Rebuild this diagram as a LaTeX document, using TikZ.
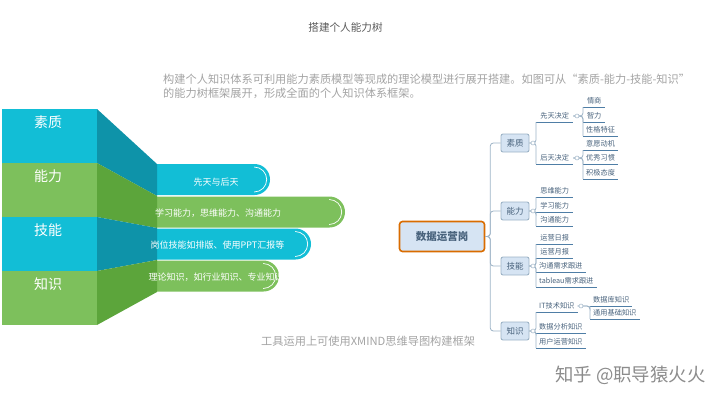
\documentclass[tikz,border=0pt]{standalone}
\usepackage{fontspec}
\usepackage{xcolor}
\setmainfont{Noto Sans CJK SC}
\usetikzlibrary{shapes.misc, positioning, calc}
\definecolor{tealc}{HTML}{12BED6}
\definecolor{greenc}{HTML}{7DC05C}
\definecolor{tealdark}{HTML}{0E93A9}
\definecolor{greendark}{HTML}{5CA53B}
\definecolor{textgray}{HTML}{A3A3A3}
\definecolor{linkc}{HTML}{9DB3C6}
\definecolor{underc}{HTML}{4F7EA6}
\definecolor{mapfill}{HTML}{D6E4F3}
\definecolor{maptext}{HTML}{48627C}
\tikzstyle{block} = [rectangle, minimum width=95pt, minimum height=54pt, inner sep=0pt]
\tikzstyle{blocktext} = [text=white, font=\fontsize{14}{16}\selectfont, inner sep=0pt]
\tikzstyle{pill} = [rounded rectangle, rounded rectangle west arc=none, minimum height=31pt, inner sep=0pt]
\tikzstyle{pilltext} = [text=white, font=\fontsize{9}{11}\selectfont, inner sep=0pt]
\tikzstyle{pillarc} = [white, line width=0.7pt]
\tikzstyle{topic} = [rectangle, rounded corners=2pt, draw=linkc, line width=0.9pt, fill=mapfill, text=maptext, minimum width=28pt, minimum height=18pt, inner sep=0pt, font=\fontsize{8.5}{10}\selectfont]
\tikzstyle{under} = [underc, line width=0.8pt]
\tikzstyle{leaf} = [anchor=west, minimum width=37pt, minimum height=12pt, inner xsep=3pt, inner ysep=0pt, text=maptext, font=\fontsize{7.2}{9}\selectfont,
  append after command={(\tikzlastnode.south west) edge[under] (\tikzlastnode.south east)}]
\tikzstyle{link} = [linkc, line width=0.8pt, rounded corners=3pt]
\tikzstyle{fold} = [circle, draw=linkc, line width=0.5pt, fill=white, minimum size=4pt, inner sep=0pt]

\begin{document}
\begin{tikzpicture}[x=1pt, y=-1pt]
    \useasboundingbox (0,0) rectangle (720,405);
    % 标题与说明
    \node[text=black!65, font=\fontsize{10.6}{13}\selectfont] (title) at (345.5,27) {搭建个人能力树};
    \node[anchor=west, text=textgray, font=\fontsize{11.2}{14}\selectfont, inner sep=0pt] (intro1) at (163,79) {构建个人知识体系可利用能力素质模型等现成的理论模型进行展开搭建。如图可从“素质-能力-技能-知识”};
    \node[anchor=west, text=textgray, font=\fontsize{11.2}{14}\selectfont, inner sep=0pt] (intro2) at (163,93) {的能力树框架展开，形成全面的个人知识体系框架。};
    \node[anchor=west, text=textgray, font=\fontsize{11.2}{13}\selectfont, inner sep=0pt] (tool) at (261,341) {工具运用上可使用XMIND思维导图构建框架};
    \node[anchor=west, text=black!45, font=\fontsize{18.4}{20}\selectfont, inner sep=0pt] (mark) at (555,375) {知乎 @职导猿火火};

    % 左侧色块
    \node[block, fill=tealc] (b1) at (49.5,136) {};
    \node[block, fill=greenc] (b2) at (49.5,190) {};
    \node[block, fill=tealc] (b3) at (49.5,244) {};
    \node[block, fill=greenc] (b4) at (49.5,298) {};
    \node[blocktext] (l1) at (48,122) {素质};
    \node[blocktext] (l2) at (48,176) {能力};
    \node[blocktext] (l3) at (48,230) {技能};
    \node[blocktext] (l4) at (48,284) {知识};

    % 右侧胶囊
    \node[pill, fill=tealc, minimum width=113pt] (p1) at (213.5,179.5) {};
    \node[pill, fill=greenc, minimum width=188pt] (p2) at (251,212) {};
    \node[pill, fill=tealc, minimum width=154pt] (p3) at (234,244) {};
    \node[pill, fill=greenc, minimum width=122pt] (p4) at (218,276) {};
    \draw[pillarc] ([xshift=-16pt,yshift=12.5pt]p1.east) arc[start angle=90, end angle=-90, radius=12.5pt];
    \draw[pillarc] ([xshift=-16pt,yshift=12.5pt]p2.east) arc[start angle=90, end angle=-90, radius=12.5pt];
    \draw[pillarc] ([xshift=-16pt,yshift=12.5pt]p3.east) arc[start angle=90, end angle=-90, radius=12.5pt];
    \draw[pillarc] ([xshift=-16pt,yshift=12.5pt]p4.east) arc[start angle=90, end angle=-90, radius=12.5pt];

    % 中间梯形
    \fill[tealdark] (97,109) -- (157,164) -- (157,196) -- (97,163) -- cycle;
    \fill[greendark] (97,163) -- (157,196) -- (157,228) -- (97,217) -- cycle;
    \fill[tealdark] (97,217) -- (157,228) -- (157,260) -- (97,271) -- cycle;
    \fill[greendark] (97,271) -- (157,260) -- (157,292) -- (97,325) -- cycle;

    \node[pilltext] (t1) at (216,182) {先天与后天};
    \node[pilltext] (t2) at (218,213) {学习能力，思维能力、沟通能力};
    \node[pilltext] (t3) at (217.5,245) {岗位技能如排版、使用PPT汇报等};
    \node[pilltext] (t4) at (216,277) {理论知识，如行业知识、专业知识};

    % 思维导图
    \node[rectangle, rounded corners=3pt, draw=orange!85!black, line width=1.6pt, fill=mapfill, text=maptext, minimum width=85pt, minimum height=30pt, inner sep=0pt, font=\fontsize{10.5}{12}\selectfont\bfseries] (post) at (442,236.5) {数据运营岗};
    \node[topic] (su) at (515,143) {素质};
    \node[topic] (neng) at (515,211) {能力};
    \node[topic] (ji) at (515,266) {技能};
    \node[topic] (zhi) at (515,331) {知识};

    \node[leaf] (su1) at (536,116) {先天决定};
    \node[leaf] (su2) at (536,158) {后天决定};
    \node[leaf, minimum width=22pt] (su11) at (583,101) {情商};
    \node[leaf, minimum width=22pt] (su12) at (583,116) {智力};
    \node[leaf, minimum width=34pt] (su13) at (583,130) {性格特征};
    \node[leaf, minimum width=34pt] (su21) at (583,144) {意愿动机};
    \node[leaf, minimum width=34pt] (su22) at (583,158) {优秀习惯};
    \node[leaf, minimum width=34pt] (su23) at (583,173) {积极态度};
    \node[leaf] (neng1) at (536,191) {思维能力};
    \node[leaf] (neng2) at (536,206) {学习能力};
    \node[leaf] (neng3) at (536,220) {沟通能力};
    \node[leaf] (ji1) at (536,238) {运营日报};
    \node[leaf] (ji2) at (536,252) {运营月报};
    \node[leaf] (ji3) at (536,266) {沟通需求跟进};
    \node[leaf] (ji4) at (536,281) {tableau需求跟进};
    \node[leaf] (zhi1) at (536,306) {IT技术知识};
    \node[leaf] (zhi2) at (536,327) {数据分析知识};
    \node[leaf] (zhi3) at (536,342) {用户运营知识};
    \node[leaf] (zhi11) at (590,300) {数据库知识};
    \node[leaf] (zhi12) at (590,313) {通用基础知识};

    \draw[link] (post.east) -- ++(5,0) |- (su.west);
    \draw[link] (post.east) -- ++(5,0) |- (neng.west);
    \draw[link] (post.east) -- ++(5,0) |- (ji.west);
    \draw[link] (post.east) -- ++(5,0) |- (zhi.west);

    \draw[link] (su.east) -| (su1.south west);
    \draw[link] (su.east) -| (su2.south west);
    \draw[link] (su1.east) -| (su11.south west);
    \draw[link] (su1.east) -| (su12.south west);
    \draw[link] (su1.east) -| (su13.south west);
    \draw[link] (su2.east) -| (su21.south west);
    \draw[link] (su2.east) -| (su22.south west);
    \draw[link] (su2.east) -| (su23.south west);
    \draw[link] (neng.east) -| (neng1.south west);
    \draw[link] (neng.east) -| (neng2.south west);
    \draw[link] (neng.east) -| (neng3.south west);
    \draw[link] (ji.east) -| (ji1.south west);
    \draw[link] (ji.east) -| (ji2.south west);
    \draw[link] (ji.east) -| (ji3.south west);
    \draw[link] (ji.east) -| (ji4.south west);
    \draw[link] (zhi.east) -| (zhi1.south west);
    \draw[link] (zhi.east) -| (zhi2.south west);
    \draw[link] (zhi.east) -| (zhi3.south west);
    \draw[link] (zhi1.east) -| (zhi11.south west);
    \draw[link] (zhi1.east) -| (zhi12.south west);

    \node[fold] (fsu) at (533,143) {};
    \node[fold] (fneng) at (533,211) {};
    \node[fold] (fji) at (533,266) {};
    \node[fold] (fzhi) at (533,331) {};
    \node[fold] (fsu1) at (577,116) {};
    \node[fold] (fsu2) at (577,158) {};
    \node[fold] (fzhi1) at (581,306) {};
\end{tikzpicture}
\end{document}
